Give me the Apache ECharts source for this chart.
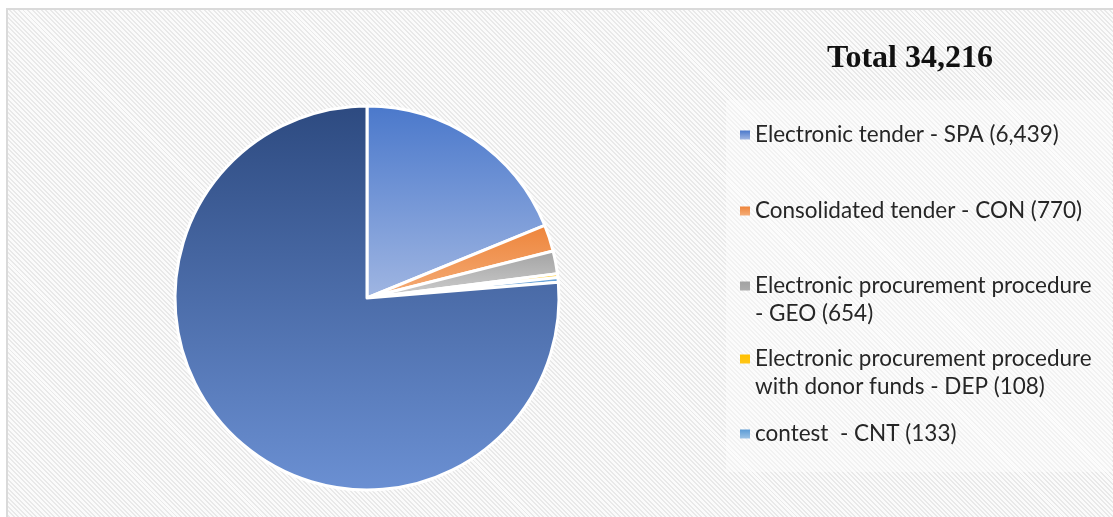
<!DOCTYPE html>
<html>
<head>
<meta charset="utf-8">
<title>Procedures</title>
<script src="https://cdn.jsdelivr.net/npm/echarts@6/dist/echarts.min.js"></script>
<style>
html, body { margin: 0; padding: 0; background: #fff; }
.wrap { position: relative; width: 1113px; height: 517px; overflow: hidden; }
.frame {
    position: absolute; left: 6px; top: 8px; width: 1120px; height: 520px;
    border: 2px solid #dadada;
    background: repeating-linear-gradient(45deg, #e9e9e9 0px, #e9e9e9 1.4px, #fbfbfb 1.4px, #fbfbfb 3.2px);
}
#myChart { position: absolute; left: 0; top: 0; width: 1113px; height: 517px; }
</style>
</head>
<body>
<div class="wrap">
    <div class="frame"></div>
    <div id="myChart"></div>
</div>
<script>
// data
var total = 34216;
var categories = ['Electronic tender - SPA', 'Consolidated tender - CON', 'Electronic procurement procedure - GEO',
    'Electronic procurement procedure with donor funds - DEP', 'contest  - CNT'];
var values = [6439, 770, 654, 108, 133];
var restName = 'Other';   // big slice, not in the legend
var restValue = total - values.reduce(function (a, b) { return a + b; }, 0);

// colours (top, bottom of each gradient)
var colorsTop = ['#4a78cb', '#ee843a', '#a2a2a2', '#ffc000', '#5b9bd5'];
var colorsBottom = ['#a0b6e2', '#f4ad78', '#cfcfcf', '#ffd966', '#9dc3e6'];
var restTop = '#2d4a80', restBottom = '#6b90d3';

var fontSize = 22.5;
var lineH = 28;
var wrapWidth = 345;
var legendTops = [135, 211, 286, 359, 434];   // centre of each item's first line

function fmt(n) { return n.toLocaleString('en-US'); }
function grad(a, b) {
    return new echarts.graphic.LinearGradient(0, 0, 0, 1, [{offset: 0, color: a}, {offset: 1, color: b}]);
}
var ctx = document.createElement('canvas').getContext('2d');
ctx.font = fontSize + 'px Lato';

// greedy word wrap, keeps spaces inside a line (e.g. "contest  - CNT")
function wrapText(s) {
    var words = s.split(' ');
    var lines = [], cur = '';
    words.forEach(function (w) {
        var t = cur === '' ? w : cur + ' ' + w;
        if (cur !== '' && ctx.measureText(t).width > wrapWidth) {
            lines.push(cur);
            cur = w;
        } else {
            cur = t;
        }
    });
    lines.push(cur);
    return lines;
}
function label(i) { return wrapText(categories[i] + ' (' + fmt(values[i]) + ')'); }

var myChart = echarts.init(document.getElementById('myChart'));

var pieData = categories.map(function (c, i) {
    return { name: c, value: values[i], itemStyle: { color: grad(colorsTop[i], colorsBottom[i]) } };
});
pieData.push({ name: restName, value: restValue, itemStyle: { color: grad(restTop, restBottom) } });

// one legend per item so the icon can sit on the first text line
var legends = categories.map(function (c, i) {
    var lines = label(i);
    var h = 9 + (lines.length - 1) * lineH;
    return {
        data: [c],
        left: 740,
        top: legendTops[i] - 14,
        padding: 0,
        itemWidth: 10,
        itemHeight: h,
        icon: 'path://M0,0H10V9H0Z M0,' + h + 'L0,' + h,
        itemStyle: { borderWidth: 0 },
        selectedMode: false,
        formatter: function () { return lines.join('\n'); },
        textStyle: {
            fontFamily: 'Lato',
            fontSize: fontSize,
            color: '#262626',
            lineHeight: lineH
        }
    };
});

myChart.setOption({
    animation: false,
    title: {
        text: 'Total ' + fmt(total),
        left: 827,
        top: 43,
        padding: 0,
        textStyle: { fontFamily: 'Liberation Serif', fontWeight: 'bold', fontSize: 32, color: '#111' }
    },
    graphic: [{
        type: 'rect',
        shape: { x: 726, y: 100, width: 386, height: 372 },
        style: { fill: 'rgba(255,255,255,0.4)' },
        z: -1
    }],
    legend: legends,
    series: [{
        type: 'pie',
        center: [367, 298],
        radius: 192,
        startAngle: 90,
        clockwise: true,
        label: { show: false },
        labelLine: { show: false },
        itemStyle: { borderColor: '#fff', borderWidth: 3 },
        data: pieData
    }]
});
</script>
</body>
</html>
